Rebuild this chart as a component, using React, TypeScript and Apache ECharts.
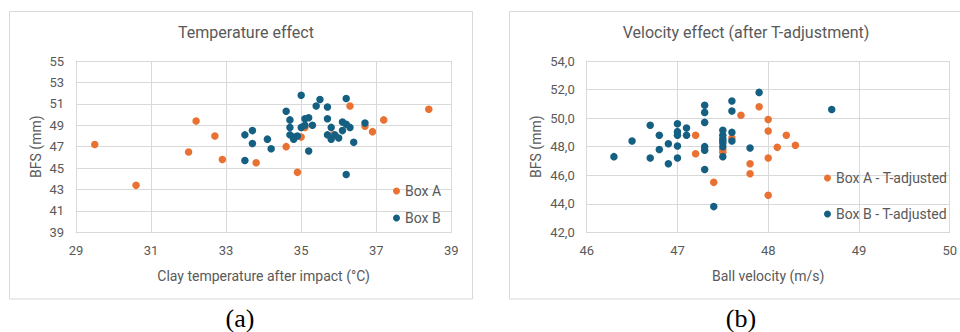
import React, { useEffect, useRef } from "react";
import * as echarts from "echarts";

// ---- Data: panel (a) Temperature effect ----
const tempBoxA: [number, number][] = [
  [29.5, 47.2], [30.6, 43.4], [32.0, 46.5], [32.2, 49.4], [32.7, 48.0], [32.9, 45.8],
  [33.8, 45.5], [34.6, 47.0], [34.9, 44.6], [35.0, 47.9], [35.1, 48.8], [35.85, 48.1],
  [36.3, 50.8], [36.7, 48.9], [36.9, 48.4], [37.2, 49.5], [38.4, 50.5],
];
const tempBoxB: [number, number][] = [
  [33.5, 48.1], [33.7, 48.5], [33.7, 47.3], [33.5, 45.7], [34.1, 47.7], [34.2, 46.8],
  [34.6, 50.3], [34.7, 49.5], [34.7, 48.8], [34.7, 48.1], [34.8, 47.9], [34.8, 47.7],
  [34.9, 48.0], [35.0, 51.8], [35.0, 48.8], [35.1, 49.6], [35.2, 49.7], [35.1, 49.0],
  [35.3, 49.0], [35.2, 46.6], [35.5, 51.4], [35.4, 50.8], [35.7, 50.7], [35.7, 49.6],
  [35.7, 48.1], [35.8, 48.8], [35.8, 47.7], [35.9, 48.1], [36.0, 47.8], [36.1, 49.3],
  [36.2, 49.1], [36.3, 48.8], [36.1, 48.5], [36.4, 47.4], [36.7, 49.2], [36.2, 51.5],
  [36.2, 44.4],
];

// ---- Data: panel (b) Velocity effect (after T-adjustment) ----
const velBoxA: [number, number][] = [
  [47.2, 48.8], [47.2, 47.5], [47.4, 45.5], [47.5, 47.8], [47.5, 47.6], [47.6, 48.6],
  [47.7, 50.2], [47.8, 46.8], [47.8, 46.1], [47.9, 50.8], [48.0, 49.9], [48.0, 49.1],
  [48.0, 47.2], [48.0, 44.6], [48.1, 47.95], [48.2, 48.8], [48.3, 48.1],
];
const velBoxB: [number, number][] = [
  [46.3, 47.3], [46.5, 48.4], [46.7, 49.5], [46.7, 47.2], [46.8, 48.8], [46.8, 47.8],
  [46.9, 48.2], [46.9, 46.8], [47.0, 49.6], [47.0, 49.05], [47.0, 48.8], [47.0, 48.05],
  [47.0, 47.2], [47.1, 49.3], [47.1, 48.8], [47.3, 50.9], [47.3, 50.4], [47.3, 49.7],
  [47.3, 48.0], [47.3, 47.75], [47.3, 46.4], [47.4, 43.8], [47.5, 49.15], [47.5, 48.8],
  [47.5, 48.55], [47.5, 48.25], [47.5, 48.0], [47.5, 47.3], [47.5, 48.4], [47.6, 51.2],
  [47.6, 50.5], [47.6, 49.0], [47.6, 48.4], [47.8, 47.9], [47.9, 51.8], [48.7, 50.6],
];

const titles = ["Temperature effect", "Velocity effect (after T-adjustment)"];
const xNames = ["Clay temperature after impact (°C)", "Ball velocity (m/s)"];
const yName = "BFS (mm)";
const seriesNames = ["Box A", "Box B", "Box A - T-adjusted", "Box B - T-adjusted"];
const panelLabels = ["(a)", "(b)"];

const ORANGE = "#E97132";
const BLUE = "#156082";
const TEXT = "#595959";
const GRID = "#D9D9D9";
const FONT = "Roboto, 'Noto Sans', sans-serif";

export default function App() {
  const ref = useRef<HTMLDivElement>(null);
  useEffect(() => {
    if (!ref.current) return;
    const chart = echarts.init(ref.current, null, { renderer: "svg" });
    const axisCommon = {
      axisLine: { show: true, lineStyle: { color: GRID } },
      axisTick: { show: false },
      splitLine: { show: true, lineStyle: { color: GRID, width: 1 } },
      nameTextStyle: { color: TEXT, fontSize: 14, fontFamily: FONT },
      axisLabel: { color: TEXT, fontSize: 13, fontFamily: FONT, margin: 12 },
    };
    const option: any = {
      animation: false,
      textStyle: { fontFamily: FONT },
      title: [
        {
          text: titles[0], left: 241, top: 19, textAlign: "center",
          textStyle: { color: TEXT, fontSize: 16, fontWeight: "normal", fontFamily: FONT },
        },
        {
          text: titles[1], left: 741, top: 19, textAlign: "center",
          textStyle: { color: TEXT, fontSize: 16, fontWeight: "normal", fontFamily: FONT },
        },
      ],
      grid: [
        { left: 76, top: 61, width: 375.3, height: 171.3, containLabel: false },
        { left: 586.7, top: 61, width: 364.3, height: 171.3, containLabel: false },
      ],
      xAxis: [
        {
          ...axisCommon, type: "value", gridIndex: 0, min: 29, max: 39, interval: 2,
          name: xNames[0], nameLocation: "middle", nameGap: 37,
        },
        {
          ...axisCommon, type: "value", gridIndex: 1, min: 46, max: 50, interval: 1,
          name: xNames[1], nameLocation: "middle", nameGap: 37,
        },
      ],
      yAxis: [
        {
          ...axisCommon, type: "value", gridIndex: 0, min: 39, max: 55, interval: 2,
          name: yName, nameLocation: "middle", nameGap: 33,
        },
        {
          ...axisCommon, type: "value", gridIndex: 1, min: 42, max: 54, interval: 2,
          name: yName, nameLocation: "middle", nameGap: 44,
          axisLabel: {
            ...axisCommon.axisLabel,
            formatter: (v: number) => v.toFixed(1).replace(".", ","),
          },
        },
      ],
      legend: [
        {
          orient: "vertical", left: 393, top: 184, padding: 0, itemWidth: 7, itemHeight: 7, itemGap: 13,
          icon: "circle", data: [seriesNames[0], seriesNames[1]],
          textStyle: { color: TEXT, fontSize: 14, fontFamily: FONT },
        },
        {
          orient: "vertical", left: 824, top: 171, padding: 0, itemWidth: 7, itemHeight: 7, itemGap: 22,
          icon: "circle", data: [seriesNames[2], seriesNames[3]],
          textStyle: { color: TEXT, fontSize: 14, fontFamily: FONT },
        },
      ],
      series: [
        { name: seriesNames[0], type: "scatter", xAxisIndex: 0, yAxisIndex: 0, data: tempBoxA, symbolSize: 7.5, itemStyle: { color: ORANGE, opacity: 1 } },
        { name: seriesNames[1], type: "scatter", xAxisIndex: 0, yAxisIndex: 0, data: tempBoxB, symbolSize: 7.5, itemStyle: { color: BLUE, opacity: 1 } },
        { name: seriesNames[2], type: "scatter", xAxisIndex: 1, yAxisIndex: 1, data: velBoxA, symbolSize: 7.5, itemStyle: { color: ORANGE, opacity: 1 } },
        { name: seriesNames[3], type: "scatter", xAxisIndex: 1, yAxisIndex: 1, data: velBoxB, symbolSize: 7.5, itemStyle: { color: BLUE, opacity: 1 } },
      ],
      graphic: [
        { type: "rect", shape: { x: 9.5, y: 11.5, width: 463, height: 287.5 }, style: { fill: "none", stroke: GRID, lineWidth: 1 }, z: -1 },
        { type: "rect", shape: { x: 509.5, y: 11.5, width: 470, height: 287.5 }, style: { fill: "none", stroke: GRID, lineWidth: 1 }, z: -1 },
        { type: "text", x: 240, y: 318, style: { text: panelLabels[0], fill: "#000", font: "26px 'Liberation Serif', 'DejaVu Serif', serif", textAlign: "center", textVerticalAlign: "middle" } },
        { type: "text", x: 741, y: 318, style: { text: panelLabels[1], fill: "#000", font: "26px 'Liberation Serif', 'DejaVu Serif', serif", textAlign: "center", textVerticalAlign: "middle" } },
      ],
    };
    chart.setOption(option);
    return () => chart.dispose();
  }, []);
  return (
    <div
      ref={ref}
      style={{ position: "absolute", left: 0, top: 0, width: 960, height: 332, background: "#fff" }}
    />
  );
}
